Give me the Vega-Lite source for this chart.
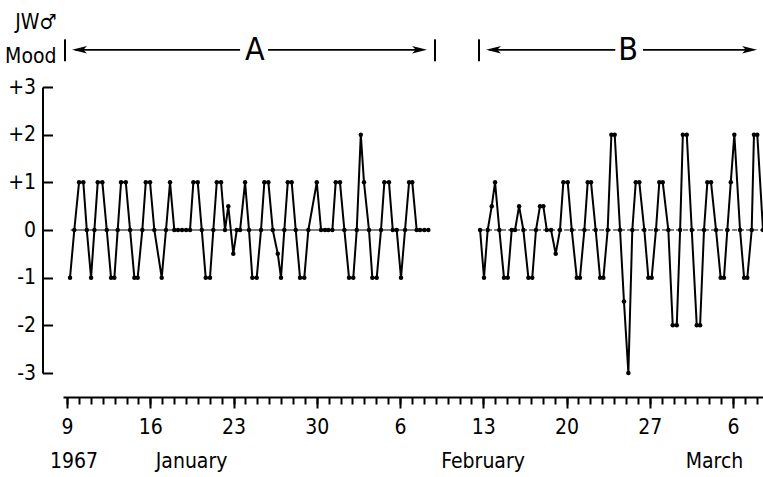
{
  "$schema": "https://vega.github.io/schema/vega-lite/v6.json",
  "width": 700,
  "height": 286,
  "autosize": {"type": "none"},
  "padding": {"left": 63, "top": 87, "right": 0, "bottom": 104},
  "background": "white",
  "config": {
    "view": {"stroke": null},
    "font": "DejaVu Sans Condensed, Roboto, sans-serif",
    "axis": {"grid": false, "labelColor": "black", "titleColor": "black", "domainColor": "black", "tickColor": "black"}
  },
  "resolve": {"axis": {"x": "independent"}},
  "datasets": {
    "mood": [
      {"s":"A","d":0.25,"m":-1},{"s":"A","d":0.61,"m":0},{"s":"A","d":1.01,"m":1},{"s":"A","d":1.37,"m":1},{"s":"A","d":1.66,"m":0},{"s":"A","d":2.02,"m":-1},{"s":"A","d":2.30,"m":0},{"s":"A","d":2.58,"m":1},{"s":"A","d":2.97,"m":1},{"s":"A","d":3.34,"m":0},{"s":"A","d":3.70,"m":-1},{"s":"A","d":3.98,"m":-1},{"s":"A","d":4.26,"m":0},{"s":"A","d":4.54,"m":1},{"s":"A","d":4.94,"m":1},{"s":"A","d":5.30,"m":0},{"s":"A","d":5.66,"m":-1},{"s":"A","d":5.94,"m":-1},{"s":"A","d":6.33,"m":0},{"s":"A","d":6.62,"m":1},{"s":"A","d":6.98,"m":1},{"s":"A","d":7.34,"m":0},{"s":"A","d":7.96,"m":-1},{"s":"A","d":8.32,"m":0},{"s":"A","d":8.66,"m":1},{"s":"A","d":9.02,"m":0},{"s":"A","d":9.33,"m":0},{"s":"A","d":9.67,"m":0},{"s":"A","d":10.01,"m":0},{"s":"A","d":10.34,"m":0},{"s":"A","d":10.62,"m":1},{"s":"A","d":10.99,"m":1},{"s":"A","d":11.33,"m":0},{"s":"A","d":11.66,"m":-1},{"s":"A","d":12.02,"m":-1},{"s":"A","d":12.30,"m":0},{"s":"A","d":12.59,"m":1},{"s":"A","d":12.95,"m":1},{"s":"A","d":13.28,"m":0},{"s":"A","d":13.56,"m":0.5},{"s":"A","d":13.98,"m":-0.5},{"s":"A","d":14.27,"m":0},{"s":"A","d":14.55,"m":0},{"s":"A","d":14.97,"m":1},{"s":"A","d":15.30,"m":0},{"s":"A","d":15.58,"m":-1},{"s":"A","d":15.95,"m":-1},{"s":"A","d":16.31,"m":0},{"s":"A","d":16.59,"m":1},{"s":"A","d":16.93,"m":1},{"s":"A","d":17.30,"m":0},{"s":"A","d":17.72,"m":-0.5},{"s":"A","d":17.99,"m":-1},{"s":"A","d":18.27,"m":0},{"s":"A","d":18.56,"m":1},{"s":"A","d":18.89,"m":1},{"s":"A","d":19.23,"m":0},{"s":"A","d":19.59,"m":-1},{"s":"A","d":19.95,"m":-1},{"s":"A","d":20.29,"m":0},{"s":"A","d":21.00,"m":1},{"s":"A","d":21.36,"m":0},{"s":"A","d":21.69,"m":0},{"s":"A","d":21.97,"m":0},{"s":"A","d":22.31,"m":0},{"s":"A","d":22.59,"m":1},{"s":"A","d":22.95,"m":1},{"s":"A","d":23.32,"m":0},{"s":"A","d":23.71,"m":-1},{"s":"A","d":24.07,"m":-1},{"s":"A","d":24.36,"m":0},{"s":"A","d":24.70,"m":2},{"s":"A","d":24.97,"m":1},{"s":"A","d":25.39,"m":0},{"s":"A","d":25.67,"m":-1},{"s":"A","d":26.04,"m":-1},{"s":"A","d":26.40,"m":0},{"s":"A","d":26.68,"m":1},{"s":"A","d":27.07,"m":1},{"s":"A","d":27.39,"m":0},{"s":"A","d":27.72,"m":0},{"s":"A","d":28.08,"m":-1},{"s":"A","d":28.42,"m":0},{"s":"A","d":28.76,"m":1},{"s":"A","d":29.03,"m":1},{"s":"A","d":29.40,"m":0},{"s":"A","d":29.68,"m":0},{"s":"A","d":30.04,"m":0},{"s":"A","d":30.38,"m":0},
      {"s":"B","d":34.73,"m":0},{"s":"B","d":35.06,"m":-1},{"s":"B","d":35.37,"m":0},{"s":"B","d":35.71,"m":0.5},{"s":"B","d":35.99,"m":1},{"s":"B","d":36.35,"m":0},{"s":"B","d":36.74,"m":-1},{"s":"B","d":37.06,"m":-1},{"s":"B","d":37.39,"m":0},{"s":"B","d":37.67,"m":0},{"s":"B","d":38.01,"m":0.5},{"s":"B","d":38.37,"m":0},{"s":"B","d":38.79,"m":-1},{"s":"B","d":39.12,"m":-1},{"s":"B","d":39.43,"m":0},{"s":"B","d":39.77,"m":0.5},{"s":"B","d":40.05,"m":0.5},{"s":"B","d":40.34,"m":0},{"s":"B","d":40.70,"m":0},{"s":"B","d":41.09,"m":-0.5},{"s":"B","d":41.45,"m":0},{"s":"B","d":41.73,"m":1},{"s":"B","d":42.10,"m":1},{"s":"B","d":42.44,"m":0},{"s":"B","d":42.86,"m":-1},{"s":"B","d":43.13,"m":-1},{"s":"B","d":43.50,"m":0},{"s":"B","d":43.78,"m":1},{"s":"B","d":44.06,"m":1},{"s":"B","d":44.45,"m":0},{"s":"B","d":44.82,"m":-1},{"s":"B","d":45.10,"m":-1},{"s":"B","d":45.46,"m":0},{"s":"B","d":45.77,"m":2},{"s":"B","d":46.05,"m":2},{"s":"B","d":46.50,"m":0},{"s":"B","d":46.83,"m":-1.5},{"s":"B","d":47.20,"m":-3},{"s":"B","d":47.53,"m":0},{"s":"B","d":47.82,"m":1},{"s":"B","d":48.12,"m":1},{"s":"B","d":48.54,"m":0},{"s":"B","d":48.88,"m":-1},{"s":"B","d":49.16,"m":-1},{"s":"B","d":49.52,"m":0},{"s":"B","d":49.80,"m":1},{"s":"B","d":50.09,"m":1},{"s":"B","d":50.56,"m":0},{"s":"B","d":50.93,"m":-2},{"s":"B","d":51.27,"m":-2},{"s":"B","d":51.55,"m":0},{"s":"B","d":51.78,"m":2},{"s":"B","d":52.11,"m":2},{"s":"B","d":52.53,"m":0},{"s":"B","d":52.95,"m":-2},{"s":"B","d":53.23,"m":-2},{"s":"B","d":53.56,"m":0},{"s":"B","d":53.84,"m":1},{"s":"B","d":54.15,"m":1},{"s":"B","d":54.57,"m":0},{"s":"B","d":54.96,"m":-1},{"s":"B","d":55.24,"m":-1},{"s":"B","d":55.52,"m":0},{"s":"B","d":55.81,"m":1},{"s":"B","d":56.11,"m":2},{"s":"B","d":56.59,"m":0},{"s":"B","d":56.93,"m":-1},{"s":"B","d":57.20,"m":-1},{"s":"B","d":57.57,"m":0},{"s":"B","d":57.76,"m":2},{"s":"B","d":58.04,"m":2},{"s":"B","d":58.52,"m":0}
    ],
    "days": [{"day":0},{"day":1},{"day":2},{"day":3},{"day":4},{"day":5},{"day":6},{"day":7},{"day":8},{"day":9},{"day":10},{"day":11},{"day":12},{"day":13},{"day":14},{"day":15},{"day":16},{"day":17},{"day":18},{"day":19},{"day":20},{"day":21},{"day":22},{"day":23},{"day":24},{"day":25},{"day":26},{"day":27},{"day":28},{"day":29},{"day":30},{"day":31},{"day":32},{"day":33},{"day":34},{"day":35},{"day":36},{"day":37},{"day":38},{"day":39},{"day":40},{"day":41},{"day":42},{"day":43},{"day":44},{"day":45},{"day":46},{"day":47},{"day":48},{"day":49},{"day":50},{"day":51},{"day":52},{"day":53},{"day":54},{"day":55},{"day":56},{"day":57},{"day":58}],
    "zero": [{"s":"A","x":0.3,"x2":30.38},{"s":"B","x":34.73,"x2":58.52}],
    "bars": [{"x":-0.17},{"x":30.94},{"x":34.64}],
    "arrows": [{"x":0.7,"x2":14.55},{"x":16.9,"x2":29.7},{"x":35.5,"x2":46.1},{"x":48.43,"x2":57.4}],
    "heads": [{"x":1.05,"dir":"L"},{"x":29.64,"dir":"R"},{"x":35.86,"dir":"L"},{"x":57.39,"dir":"R"}],
    "labels": [{"x":15.8,"t":"A"},{"x":47.17,"t":"B"}]
  },
  "layer": [
    {
      "data": {"name": "days"},
      "mark": {"type": "point", "opacity": 0, "size": 1},
      "encoding": {
        "x": {
          "field": "day", "type": "quantitative",
          "scale": {"domain": [-0.34, 58.52], "nice": false, "zero": false},
          "axis": {
            "orient": "bottom",
            "title": null,
            "offset": 24,
            "values": [0,1,2,3,4,5,6,7,8,9,10,11,12,13,14,15,16,17,18,19,20,21,22,23,24,25,26,27,28,29,30,31,32,33,34,35,36,37,38,39,40,41,42,43,44,45,46,47,48,49,50,51,52,53,54,55,56,57,58],
            "ticks": true,
            "labels": false,
            "domainWidth": 2,
            "tickWidth": 2,
            "tickSize": 7
          }
        },
        "y": {"datum": 0, "type": "quantitative", "scale": {"domain": [-3, 3], "nice": false, "zero": false}}
      }
    },
    {
      "data": {"name": "mood"},
      "mark": {"type": "line", "color": "black", "strokeWidth": 2, "point": {"filled": true, "size": 20, "color": "black"}},
      "encoding": {
        "x": {"field": "d", "type": "quantitative", "axis": null},
        "y": {
          "field": "m", "type": "quantitative",
          "scale": {"domain": [-3, 3], "nice": false, "zero": false},
          "axis": {
            "values": [-3, -2, -1, 0, 1, 2, 3],
            "labelExpr": "datum.value > 0 ? '+' + datum.value : (datum.value < 0 ? '-' + abs(datum.value) : '0')",
            "offset": 20.5,
            "domainWidth": 2,
            "tickWidth": 2,
            "tickSize": -10,
            "labelPadding": 17,
            "labelFontSize": 21,
            "labelBaseline": "middle",
            "title": ["JW♂", "Mood"],
            "titleAngle": 0,
            "titleAlign": "right",
            "titleBaseline": "top",
            "titleX": 13.5,
            "titleY": -76,
            "titleFontSize": 21,
            "titleFontWeight": "normal",
            "titleLineHeight": 34
          }
        },
        "detail": {"field": "s", "type": "nominal"}
      }
    },
    {
      "data": {"name": "zero"},
      "mark": {"type": "rule", "color": "black", "strokeWidth": 1.2},
      "encoding": {
        "x": {
          "field": "x", "type": "quantitative",
          "axis": {
            "orient": "bottom",
            "title": null,
            "offset": 24,
            "domain": false,
            "values": [0, 7, 14, 21, 28, 35, 42, 49, 56],
            "labelExpr": "datum.value == 0 ? '9' : datum.value == 7 ? '16' : datum.value == 14 ? '23' : datum.value == 21 ? '30' : datum.value == 28 ? '6' : datum.value == 35 ? '13' : datum.value == 42 ? '20' : datum.value == 49 ? '27' : '6'",
            "tickWidth": 2,
            "tickSize": 11,
            "labelFontSize": 21,
            "labelPadding": 8,
            "labelOverlap": false,
            "labelFlush": false,
            "labelBound": false
          }
        },
        "x2": {"field": "x2"},
        "y": {"datum": 0, "type": "quantitative"},
        "strokeDash": {"field": "s", "type": "nominal", "scale": {"domain": ["A", "B"], "range": [[1, 0], [5, 2]]}, "legend": null}
      }
    },
    {
      "data": {"name": "bars"},
      "mark": {"type": "rule", "color": "black", "strokeWidth": 2},
      "encoding": {
        "x": {
          "field": "x", "type": "quantitative",
          "axis": {
            "orient": "bottom",
            "title": null,
            "offset": 24,
            "domain": false,
            "ticks": false,
            "tickSize": 0,
            "values": [0.55, 10.43, 34.94, 54.4],
            "labelExpr": "datum.value == 0.55 ? '1967' : datum.value == 10.43 ? 'January' : datum.value == 34.94 ? 'February' : 'March'",
            "labelFontSize": 21,
            "labelPadding": 53,
            "labelOverlap": false,
            "labelFlush": false,
            "labelBound": false
          }
        },
        "y": {"datum": 3.54, "type": "quantitative"},
        "y2": {"datum": 4.0}
      }
    },
    {
      "data": {"name": "arrows"},
      "mark": {"type": "rule", "color": "black", "strokeWidth": 1.8},
      "encoding": {
        "x": {"field": "x", "type": "quantitative", "axis": null},
        "x2": {"field": "x2"},
        "y": {"datum": 3.78, "type": "quantitative"}
      }
    },
    {
      "data": {"name": "heads"},
      "mark": {"type": "point", "filled": true, "color": "black", "opacity": 1, "size": 225},
      "encoding": {
        "x": {"field": "x", "type": "quantitative", "axis": null},
        "y": {"datum": 3.78, "type": "quantitative"},
        "shape": {"field": "dir", "type": "nominal", "scale": {"domain": ["L", "R"], "range": ["M -1 0 L 1 -0.5 L 0.5 0 L 1 0.5 Z", "M 1 0 L -1 -0.5 L -0.5 0 L -1 0.5 Z"]}, "legend": null}
      }
    },
    {
      "data": {"name": "labels"},
      "mark": {"type": "text", "color": "black", "fontSize": 32, "baseline": "middle", "align": "center"},
      "encoding": {
        "x": {"field": "x", "type": "quantitative", "axis": null},
        "y": {"datum": 3.78, "type": "quantitative"},
        "text": {"field": "t"}
      }
    }
  ]
}
